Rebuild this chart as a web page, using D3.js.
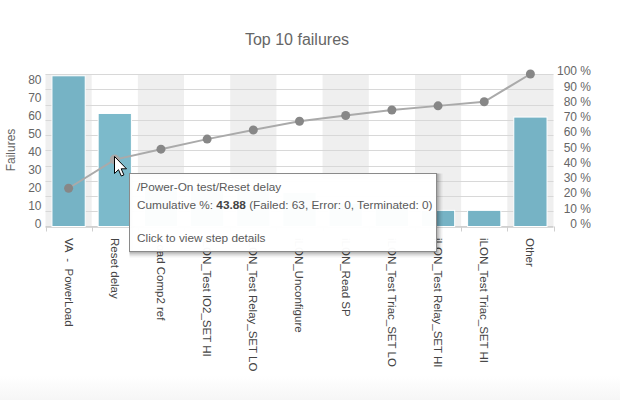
<!DOCTYPE html>
<html><head><meta charset="utf-8">
<script src="https://cdn.jsdelivr.net/npm/d3@7/dist/d3.min.js"></script>
<style>
html,body{margin:0;padding:0;background:#fff;}
svg{display:block;font-family:"Segoe UI","Liberation Sans",Arial,sans-serif;}
</style></head>
<body>
<script>
const title = "Top 10 failures";
const categories = ["VA  -  PowerLoad","Reset delay","Load Comp2 ref","iLON_Test IO2_SET HI","iLON_Test Relay_SET LO","iLON_Unconfigure","iLON_Read SP","iLON_Test Triac_SET LO","iLON_Test Relay_SET HI","iLON_Test Triac_SET HI","Other"];
const failures = [84,63,23,22,20,19,13,12,9,9,61];
const cumulativePct = [25.07,43.88,50.7,57.3,63.3,69.0,72.8,76.4,79.1,81.8,100];
const leftTicks = [0,10,20,30,40,50,60,70,80];
const rightTicks = [0,10,20,30,40,50,60,70,80,90,100];
const leftTitle = "Failures";
const tooltipLines = ["/Power-On test/Reset delay","Click to view step details"];
const tooltipValue = {label:"Cumulative %: ", value:"43.88", rest:" (Failed: 63, Error: 0, Terminated: 0)"};
const hoverIndex = 1;

const W=620,H=400;
const svg=d3.select("body").append("svg").attr("width",W).attr("height",H);
svg.append("rect").attr("x",0).attr("y",0).attr("width",W).attr("height",H).attr("fill","#fff");
const grad=svg.append("defs").append("linearGradient").attr("id","bg").attr("x1",0).attr("x2",0).attr("y1",0).attr("y2",1);
grad.append("stop").attr("offset","0").attr("stop-color","#fff");
grad.append("stop").attr("offset","1").attr("stop-color","#f6f6f6");
svg.append("rect").attr("x",0).attr("y",376).attr("width",W).attr("height",24).attr("fill","url(#bg)");

const plot={left:45.5,right:553.5,top:74,bottom:226.5};
const x=d3.scaleBand().domain(categories).range([plot.left,plot.right]).paddingInner(0).paddingOuter(0);
const yL=d3.scaleLinear().domain([0,85]).range([plot.bottom,plot.top]);
const yR=d3.scaleLinear().domain([0,100]).range([plot.bottom,plot.top]);

// alternating bands
svg.append("g").selectAll("rect").data(categories.filter((d,i)=>i%2===0)).join("rect")
  .attr("x",d=>x(d)).attr("y",plot.top).attr("width",x.bandwidth()).attr("height",plot.bottom-plot.top)
  .attr("fill","#efefef");

// gridlines (right axis)
svg.append("g").selectAll("line").data(rightTicks).join("line")
  .attr("x1",plot.left).attr("x2",plot.right).attr("y1",d=>Math.round(yR(d))+0.5).attr("y2",d=>Math.round(yR(d))+0.5)
  .attr("stroke","#d8d8d8").attr("stroke-width",1);

// x axis line and ticks
svg.append("line").attr("x1",plot.left).attr("x2",plot.right).attr("y1",plot.bottom).attr("y2",plot.bottom).attr("stroke","#d0d0d0");
const bounds=categories.map(d=>x(d)).concat([x(categories[categories.length-1])+x.bandwidth()]);
svg.append("g").selectAll("line").data(bounds).join("line")
  .attr("x1",d=>Math.round(d)+0.5).attr("x2",d=>Math.round(d)+0.5).attr("y1",plot.bottom).attr("y2",plot.bottom+5)
  .attr("stroke","#cfcfcf");

// bars
const bw=x.bandwidth()*0.72;
svg.append("g").selectAll("rect").data(failures).join("rect")
  .attr("x",(d,i)=>x(categories[i])+(x.bandwidth()-bw)/2).attr("width",bw)
  .attr("y",d=>yL(d)).attr("height",d=>plot.bottom-yL(d))
  .attr("fill",(d,i)=>i===hoverIndex?"#7cbacb":"#76b3c5").attr("stroke","#fff").attr("stroke-width",1);

// cumulative line
const cx=i=>x(categories[i])+x.bandwidth()/2;
const line=d3.line().x((d,i)=>cx(i)).y(d=>yR(d));
svg.append("path").datum(cumulativePct).attr("d",line).attr("fill","none").attr("stroke","#aaaaaa").attr("stroke-width",2);
svg.append("g").selectAll("circle").data(cumulativePct).join("circle")
  .attr("cx",(d,i)=>cx(i)).attr("cy",d=>yR(d)).attr("r",(d,i)=>i===hoverIndex?5:4.5)
  .attr("fill",(d,i)=>i===hoverIndex?"#a8a8a8":"#878787");

// left axis
const gl=svg.append("g").attr("transform",`translate(${plot.left-4},-3)`)
  .call(d3.axisLeft(yL).tickValues(leftTicks).tickSize(0).tickPadding(0));
gl.select(".domain").remove();
gl.selectAll("text").attr("fill","#666").style("font-size","12px").style("font-family","'Segoe UI','Liberation Sans',Arial,sans-serif");

// right axis
const gr=svg.append("g").attr("transform",`translate(591,-3)`)
  .call(d3.axisLeft(yR).tickValues(rightTicks).tickSize(0).tickPadding(0).tickFormat(d=>d+" %"));
gr.select(".domain").remove();
gr.selectAll("text").attr("fill","#666").style("font-size","12px").style("font-family","'Segoe UI','Liberation Sans',Arial,sans-serif");

// x labels
svg.append("g").selectAll("text").data(categories).join("text")
  .attr("transform",(d,i)=>`translate(${cx(i)},238) rotate(90)`)
  .attr("dy","0.35em").attr("text-anchor","start").style("white-space","pre")
  .attr("fill","#444").style("font-size","11.5px").text(d=>d);

// title
svg.append("text").attr("x",297).attr("y",45).attr("text-anchor","middle")
  .attr("fill","#666").style("font-size","16px").text(title);

// y title
svg.append("text").attr("transform","translate(15,150) rotate(-90)").attr("text-anchor","middle")
  .attr("fill","#666").style("font-size","12px").text(leftTitle);

// tooltip
const tt={x:129.5,y:173.5,w:307,h:78};
const tg=svg.append("g");
[3,2,1].forEach(o=>{
  tg.append("rect").attr("x",tt.x+o).attr("y",tt.y+o).attr("width",tt.w).attr("height",tt.h)
    .attr("fill","none").attr("stroke","#000").attr("stroke-opacity",0.05*(4-o)).attr("stroke-width",o*2);
});
tg.append("rect").attr("x",tt.x).attr("y",tt.y).attr("width",tt.w).attr("height",tt.h)
  .attr("fill","rgba(255,255,255,0.97)").attr("stroke","#8a8a8a").attr("stroke-width",1);
tg.append("text").attr("x",137).attr("y",191).attr("fill","#5a5a5a").style("font-size","11.8px").text(tooltipLines[0]);
const t2=tg.append("text").attr("x",137).attr("y",209).attr("fill","#5a5a5a").style("font-size","11.8px");
t2.append("tspan").text(tooltipValue.label);
t2.append("tspan").attr("font-weight","bold").attr("fill","#444").text(tooltipValue.value);
t2.append("tspan").text(tooltipValue.rest);
tg.append("text").attr("x",137).attr("y",242).attr("fill","#5a5a5a").style("font-size","11.8px").text(tooltipLines[1]);

// mouse cursor
const cur=[[0,0],[0,17],[4,13.2],[6.8,19.5],[9.4,18.4],[6.7,12.3],[12,12.3]];
svg.append("path").attr("transform","translate(114.5,156.5)")
  .attr("d",d3.line()(cur)+"Z").attr("fill","#fff").attr("stroke","#000").attr("stroke-width",1).attr("stroke-linejoin","miter");
</script>
</body></html>
